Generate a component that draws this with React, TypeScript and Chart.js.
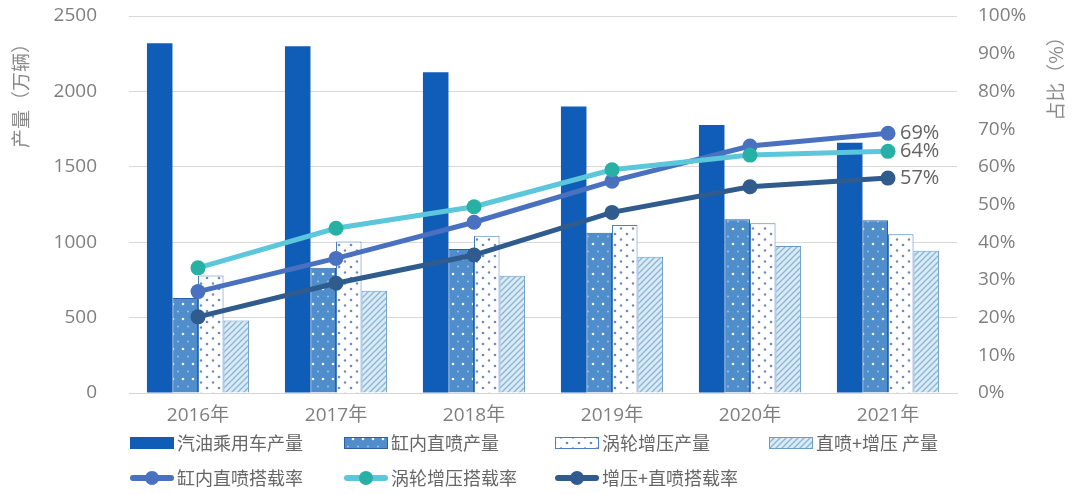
import React, { useEffect, useRef } from 'react';
import { Chart, registerables } from 'chart.js';

Chart.register(...registerables);

const years = ['2016年', '2017年', '2018年', '2019年', '2020年', '2021年'];
const gasolineOutput = [2320, 2300, 2127, 1900, 1777, 1660];
const gdiOutput = [630, 830, 955, 1063, 1152, 1145];
const turboOutput = [780, 1005, 1043, 1114, 1125, 1052];
const gdiTurboOutput = [480, 678, 778, 904, 975, 944];
const gdiRate = [26.9, 35.7, 45.3, 56.2, 65.5, 68.9];
const turboRate = [33.2, 43.7, 49.4, 59.2, 63.1, 64.1];
const bothRate = [20.2, 29.1, 36.6, 47.9, 54.7, 57.0];
const endLabels = ['69%', '64%', '57%'];
const leftTicks = [0, 500, 1000, 1500, 2000, 2500];
const barNames = ['汽油乘用车产量', '缸内直喷产量', '涡轮增压产量', '直喷+增压 产量'];
const lineNames = ['缸内直喷搭载率', '涡轮增压搭载率', '增压+直喷搭载率'];
const leftTitle = '产量（万辆）';
const rightTitle = '占比（%）';

const FONT = '"Open Sans", "Noto Sans CJK SC", sans-serif';
const CJK = '"Noto Sans CJK SC", "Open Sans", sans-serif';
const GRAY = '#7f7f7f';

function makeTile(kind: string): HTMLCanvasElement {
  const c = document.createElement('canvas');
  const ctx = c.getContext('2d') as CanvasRenderingContext2D;
  const dot = (x: number, y: number, r: number) => {
    ctx.beginPath();
    ctx.arc(x, y, r, 0, Math.PI * 2);
    ctx.fill();
  };
  if (kind === 'gdi') {
    c.width = 10; c.height = 15;
    ctx.fillStyle = '#4f8dcb';
    ctx.fillRect(0, 0, 10, 15);
    ctx.fillStyle = 'rgba(255,255,255,0.95)';
    dot(3, 4, 1.3);
    ctx.fillStyle = 'rgba(190,220,250,0.7)';
    dot(8, 11.5, 1);
  } else if (kind === 'turbo') {
    c.width = 12; c.height = 11;
    ctx.fillStyle = '#ffffff';
    ctx.fillRect(0, 0, 12, 11);
    ctx.fillStyle = '#7089b5';
    dot(3, 3, 1.3);
    dot(9, 8.5, 1.2);
  } else {
    c.width = 6; c.height = 6;
    ctx.fillStyle = '#dbeaf4';
    ctx.fillRect(0, 0, 6, 6);
    ctx.strokeStyle = '#86b7d6';
    ctx.lineWidth = 1.3;
    ctx.beginPath();
    ctx.moveTo(0, 6); ctx.lineTo(6, 0);
    ctx.moveTo(-1, 1); ctx.lineTo(1, -1);
    ctx.moveTo(5, 7); ctx.lineTo(7, 5);
    ctx.stroke();
  }
  return c;
}

export default function App() {
  const ref = useRef<HTMLCanvasElement>(null);

  useEffect(() => {
    const canvas = ref.current!;
    const ctx0 = canvas.getContext('2d') as CanvasRenderingContext2D;
    const gdiPat = ctx0.createPattern(makeTile('gdi'), 'repeat')!;
    const turboPat = ctx0.createPattern(makeTile('turbo'), 'repeat')!;
    const hatchPat = ctx0.createPattern(makeTile('hatch'), 'repeat')!;

    const barFills: any[] = ['#0f5db6', gdiPat, turboPat, hatchPat];
    const barBorders = ['#0f5db6', '#2c62a4', '#4a80c2', '#6a9dc6'];
    const lineColors = ['#4a70c0', '#5cc6da', '#2f5b8d'];
    const markerColors = ['#4a70c0', '#27b0a4', '#2f5b8d'];

    const overlay = {
      id: 'overlay',
      afterDatasetsDraw(chart: any) {
        const ctx = chart.ctx as CanvasRenderingContext2D;
        ctx.save();
        ctx.font = `20px ${FONT}`;
        ctx.fillStyle = '#636363';
        ctx.textAlign = 'left';
        ctx.textBaseline = 'middle';
        [4, 5, 6].forEach((di, k) => {
          const meta = chart.getDatasetMeta(di);
          const pt = meta.data[meta.data.length - 1];
          ctx.fillText(endLabels[k], pt.x + 12, pt.y);
        });
        ctx.restore();
      },
      afterDraw(chart: any) {
        const ctx = chart.ctx as CanvasRenderingContext2D;
        ctx.save();
        // axis titles
        ctx.font = `19px ${CJK}`;
        ctx.fillStyle = '#8a8a8a';
        ctx.textAlign = 'center';
        ctx.textBaseline = 'middle';
        ctx.save();
        ctx.translate(21, 91);
        ctx.rotate(-Math.PI / 2);
        ctx.fillText(leftTitle, 0, 0);
        ctx.restore();
        ctx.save();
        ctx.translate(1056, 74);
        ctx.rotate(-Math.PI / 2);
        ctx.fillText(rightTitle, 0, 0);
        ctx.restore();

        // legend
        const cols = [130, 344, 555, 769];
        const rows = [443, 478];
        const bw = 44;
        ctx.font = `18px ${CJK}`;
        ctx.textAlign = 'left';
        ctx.fillStyle = '#666666';
        barNames.forEach((name, i) => {
          const x = cols[i];
          const y = rows[0];
          ctx.fillStyle = barFills[i];
          ctx.fillRect(x, y - 6, bw, 12);
          ctx.strokeStyle = barBorders[i];
          ctx.lineWidth = 1;
          ctx.strokeRect(x + 0.5, y - 5.5, bw - 1, 11);
          ctx.fillStyle = '#666666';
          ctx.fillText(name, x + bw + 3, y);
        });
        lineNames.forEach((name, i) => {
          const x = cols[i];
          const y = rows[1];
          ctx.strokeStyle = lineColors[i];
          ctx.lineWidth = 6;
          ctx.lineCap = 'round';
          ctx.beginPath();
          ctx.moveTo(x + 3, y);
          ctx.lineTo(x + bw - 3, y);
          ctx.stroke();
          ctx.fillStyle = markerColors[i];
          ctx.beginPath();
          ctx.arc(x + bw / 2, y, 7, 0, Math.PI * 2);
          ctx.fill();
          ctx.fillStyle = '#666666';
          ctx.fillText(name, x + bw + 3, y);
        });
        ctx.restore();
      },
    };

    const barDs = [gasolineOutput, gdiOutput, turboOutput, gdiTurboOutput].map((d, i) => ({
      type: 'bar' as const,
      label: barNames[i],
      data: d,
      backgroundColor: barFills[i],
      borderColor: barBorders[i],
      borderWidth: i === 0 ? 0 : 1,
      borderSkipped: 'bottom' as const,
      yAxisID: 'y',
      order: 10,
      barPercentage: 1,
      categoryPercentage: 0.74,
    }));
    const lineOrders = [1, 0, 2];
    const lineDs = [gdiRate, turboRate, bothRate].map((d, i) => ({
      type: 'line' as const,
      label: lineNames[i],
      data: d,
      borderColor: lineColors[i],
      backgroundColor: markerColors[i],
      pointBackgroundColor: markerColors[i],
      pointBorderWidth: 0,
      pointRadius: 7.5,
      borderWidth: 5,
      tension: 0,
      yAxisID: 'y1',
      order: lineOrders[i],
    }));

    const chart = new Chart(canvas, {
      type: 'bar',
      data: { labels: years, datasets: [...barDs, ...lineDs] as any },
      plugins: [overlay],
      options: {
        responsive: false,
        animation: false,
        devicePixelRatio: 1,
        layout: { padding: { top: 16, left: 0, right: 0, bottom: 0 } },
        plugins: { legend: { display: false }, tooltip: { enabled: false } },
        scales: {
          x: {
            grid: { display: false },
            border: { display: true, color: '#d4d4d4' },
            ticks: { color: GRAY, font: { size: 19, family: FONT }, padding: 3 },
            afterFit: (s: any) => { s.height = 101; },
          },
          y: {
            position: 'left',
            min: 0,
            max: 2500,
            afterBuildTicks: (s: any) => { s.ticks = leftTicks.map((v) => ({ value: v })); },
            grid: { color: '#d9d9d9', lineWidth: 1, drawTicks: false },
            border: { display: false },
            ticks: {
              color: GRAY,
              font: { size: 19, family: FONT },
              padding: 32,
              callback: (v: any) => String(v),
            },
            afterFit: (s: any) => { s.width = 129; s.paddingTop = 0; s.paddingBottom = 0; },
          },
          y1: {
            position: 'right',
            min: 0,
            max: 100,
            grid: { display: false, drawTicks: false },
            border: { display: false },
            ticks: {
              stepSize: 10,
              color: GRAY,
              font: { size: 19, family: FONT },
              padding: 21,
              callback: (v: any) => `${v}%`,
            },
            afterFit: (s: any) => { s.width = 119; s.paddingTop = 0; s.paddingBottom = 0; },
          },
        },
      } as any,
    });
    return () => chart.destroy();
  }, []);

  return (
    <div style={{ position: 'absolute', left: 0, top: 0, width: 1076, height: 494, background: '#fff' }}>
      <canvas ref={ref} width={1076} height={494} style={{ display: 'block' }} />
    </div>
  );
}
